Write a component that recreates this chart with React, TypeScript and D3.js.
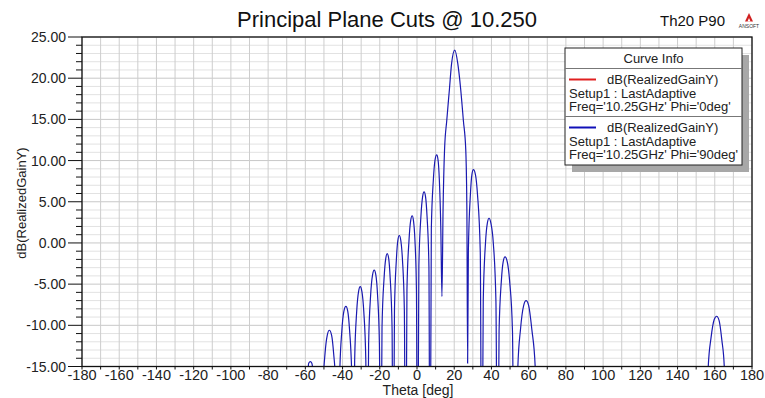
import { useEffect } from 'react'
import * as d3 from 'd3'

const phi90Curve: [number, number][] = [
  [-59, -30], [-58.5, -15.5], [-58.2, -14.6], [-57.3, -14.4], [-56.5, -14.6], [-56.0, -15.5], [-55.5, -30],
  [-51.5, -35], [-50.7, -18.6], [-49.4, -13.4], [-48.2, -11.2], [-47.1, -10.6], [-45.9, -11.2], [-44.8, -13.4], [-43.4, -18.6], [-42.5, -35],
  [-41.6, -16.5], [-40.4, -10.7], [-39.3, -8.3], [-38.2, -7.7], [-37.2, -8.3], [-36.2, -10.7], [-35.0, -16.5], [-34.2, -35],
  [-33.5, -14.3], [-32.4, -8.3], [-31.4, -5.9], [-30.5, -5.3], [-29.6, -5.9], [-28.6, -8.3], [-27.5, -14.3], [-26.8, -35],
  [-26.0, -12.3], [-24.9, -6.3], [-23.9, -3.9], [-23.0, -3.3], [-22.1, -3.9], [-21.2, -6.3], [-20.2, -12.3], [-19.5, -35],
  [-18.8, -10.3], [-17.7, -4.3], [-16.8, -1.9], [-16.0, -1.3], [-15.2, -1.9], [-14.4, -4.3], [-13.4, -10.3], [-12.8, -35],
  [-12.1, -8.1], [-11.1, -2.1], [-10.3, 0.3], [-9.5, 0.9], [-8.7, 0.3], [-7.8, -2.1], [-6.8, -8.1], [-6.1, -35],
  [-5.4, -5.7], [-4.3, 0.3], [-3.4, 2.7], [-2.6, 3.3], [-1.9, 2.7], [-1.1, 0.3], [-0.3, -5.7], [0.3, -35],
  [1.0, -2.8], [2.1, 3.2], [3.0, 5.6], [3.8, 6.2], [4.6, 5.6], [5.4, 3.2], [6.4, -2.8], [7.0, -35],
  [7.7, 1.7], [8.8, 7.7], [9.7, 10.1], [10.6, 10.7], [11.3, 10.1], [12.0, 7.7], [12.8, 1.7], [13.4, -6.5],
  [14.0, 4.0], [14.8, 11.3], [16.0, 14.9], [17.4, 18.6], [18.6, 21.8], [20.3, 23.4], [21.9, 21.8], [23.5, 18.6], [24.9, 14.9], [26.2, 11.3], [26.8, 4.0], [27.2, -14.6],
  [27.6, -1.0], [28.7, 5.9], [29.5, 8.3], [30.3, 8.9], [31.4, 8.3], [32.5, 5.9], [34.0, -1.1], [34.8, -35],
  [35.6, -7.0], [36.8, 0.0], [37.8, 2.4], [38.7, 3.0], [39.7, 2.4], [41.0, 0.0], [42.4, -7.0], [43.3, -35],
  [44.1, -10.7], [45.3, -4.7], [46.3, -2.3], [47.3, -1.7], [48.5, -2.3], [49.8, -4.7], [51.3, -10.7], [52.3, -35],
  [53.2, -35], [54.2, -15], [55.6, -10.5], [57.3, -7.6], [58.6, -7.0], [60.0, -7.6], [61.7, -10.5], [63.5, -15], [64.5, -35],
  [155.8, -35], [156.5, -15], [158.0, -11.5], [159.7, -9.3], [161.0, -8.9], [162.3, -9.4], [163.8, -11.8], [165.1, -15], [165.8, -35],
]

const xTicks = [-180, -160, -140, -120, -100, -80, -60, -40, -20, 0, 20, 40, 60, 80, 100, 120, 140, 160, 180]
const yTicks = [25, 20, 15, 10, 5, 0, -5, -10, -15]

const legendEntries = [
  { color: '#e02020', name: 'dB(RealizedGainY)', setup: 'Setup1 : LastAdaptive', freq: "Freq='10.25GHz' Phi='0deg'" },
  { color: '#1010b8', name: 'dB(RealizedGainY)', setup: 'Setup1 : LastAdaptive', freq: "Freq='10.25GHz' Phi='90deg'" },
]

const W = 765
const H = 398
const left = 82
const right = 752
const top = 37
const bottom = 366.5
const font = 'Arial, "Liberation Sans", sans-serif'

export default function App() {
  useEffect(() => {
    document.body.style.margin = '0'
  }, [])

  const x = d3.scaleLinear().domain([-180, 180]).range([left, right])
  const y = d3.scaleLinear().domain([-15, 25]).range([bottom, top])

  const line = d3.line<[number, number]>()
    .x(d => x(d[0]))
    .y(d => y(d[1]))
    .curve(d3.curveMonotoneX)

  const minorX = d3.range(-180, 181, 10)
  const minorY = d3.range(-15, 26, 1)

  const lx = 565
  const ly = 48
  const lw = 177
  const lh = 117

  return (
    <svg width={W} height={H} style={{ position: 'absolute', left: 0, top: 0, background: '#fff' }} fontFamily={font}>
      <defs>
        <clipPath id="plot-clip">
          <rect x={left} y={top} width={right - left} height={bottom - top} />
        </clipPath>
      </defs>

      <text x={387} y={27} fontSize={22} textAnchor="middle" fill="#111">Principal Plane Cuts @ 10.250</text>
      <text x={660} y={26} fontSize={15} fill="#111">Th20 P90</text>
      <path d="M745,21.5 L749,13 L753,21.5 Z" fill="#d02020" />
      <path d="M747.5,21.5 L749,18 L750.5,21.5 Z" fill="#fff" />
      <text x={749} y={28} fontSize={5} textAnchor="middle" fill="#333">ANSOFT</text>

      {/* grid */}
      {minorY.map(v => (
        <line key={'gy' + v} x1={left} x2={right} y1={y(v)} y2={y(v)}
          stroke={v % 5 === 0 ? '#c8c8c8' : '#e2e2e2'} strokeWidth={1} />
      ))}
      {minorX.map(v => (
        <line key={'gx' + v} x1={x(v)} x2={x(v)} y1={top} y2={bottom} stroke="#cdcdcd" strokeWidth={1} />
      ))}

      {/* curve */}
      <path d={line(phi90Curve) ?? ''} fill="none" stroke="#1a1ab0" strokeWidth={1.2}
        clipPath="url(#plot-clip)" />

      {/* frame */}
      <rect x={left} y={top} width={right - left} height={bottom - top} fill="none" stroke="#111" strokeWidth={1.3} />

      {/* y axis ticks */}
      {minorY.map(v => (
        <line key={'ty' + v} x1={v % 5 === 0 ? left - 14 : left - 6} x2={left} y1={y(v)} y2={y(v)} stroke="#111" strokeWidth={1} />
      ))}
      {yTicks.map(v => (
        <text key={'ly' + v} x={66} y={y(v) + 5} fontSize={14} textAnchor="end" fill="#222">{v.toFixed(2)}</text>
      ))}
      <text transform={`translate(26,203) rotate(-90)`} fontSize={13} textAnchor="middle" fill="#222">dB(RealizedGainY)</text>

      {/* x axis ticks */}
      {minorX.map(v => (
        <line key={'tx' + v} x1={x(v)} x2={x(v)} y1={bottom} y2={bottom + 3} stroke="#111" strokeWidth={1} />
      ))}
      {xTicks.map(v => (
        <text key={'lx' + v} x={x(v)} y={380} fontSize={14.5} textAnchor="middle" fill="#222">{v}</text>
      ))}
      <text x={418} y={395} fontSize={14} textAnchor="middle" fill="#222">Theta [deg]</text>

      {/* legend */}
      <rect x={lx + 7} y={ly + 7} width={lw} height={lh} fill="#a8a8a8" />
      <rect x={lx} y={ly} width={lw} height={lh} fill="#fff" stroke="#222" strokeWidth={1} />
      <text x={lx + lw / 2} y={63} fontSize={13} textAnchor="middle" fill="#222">Curve Info</text>
      <line x1={lx} x2={lx + lw} y1={68.5} y2={68.5} stroke="#777" />
      {legendEntries.map((e, i) => {
        const oy = i * 48
        return (
          <g key={'lg' + i}>
            <line x1={569} x2={596} y1={79.5 + oy} y2={79.5 + oy} stroke={e.color} strokeWidth={2} />
            <text x={607} y={83.5 + oy} fontSize={13} fill="#222">{e.name}</text>
            <text x={569} y={97.5 + oy} fontSize={13} fill="#222">{e.setup}</text>
            <text x={569} y={111 + oy} fontSize={13} fill="#222">{e.freq}</text>
            {i === 0 && <line x1={lx} x2={lx + lw} y1={116.5} y2={116.5} stroke="#777" />}
          </g>
        )
      })}
    </svg>
  )
}
